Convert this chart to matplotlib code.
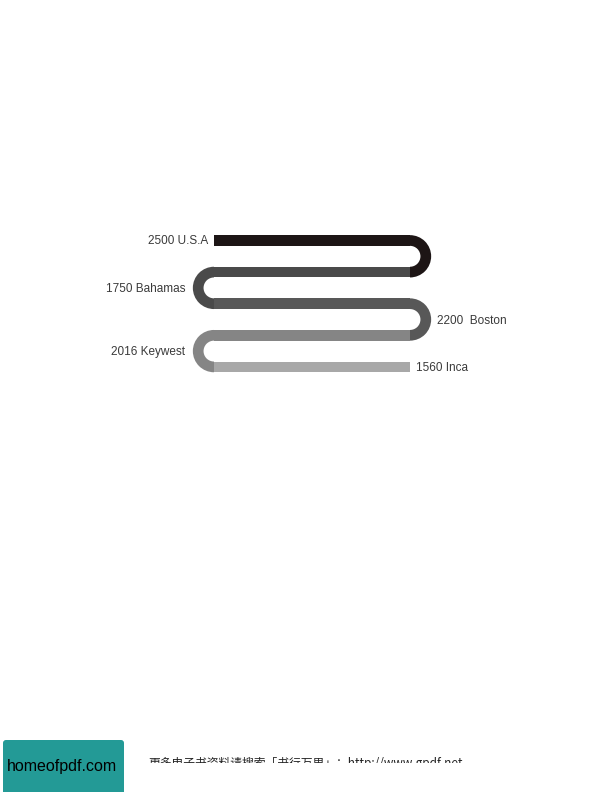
import matplotlib
matplotlib.use("Agg")
import matplotlib.pyplot as plt
from matplotlib.patches import Rectangle, Wedge, FancyBboxPatch

# ---- data ----
places = ["U.S.A", "Bahamas", "Boston", "Keywest", "Inca"]
values = [2500, 1750, 2200, 2016, 1560]
colors = ["#1d1515", "#4a4a4a", "#585858", "#858585", "#a8a8a8"]
label_text = ["2500 U.S.A", "1750 Bahamas", "2200  Boston", "2016 Keywest", "1560 Inca"]

footer_logo = "homeofpdf.com"
footer_text = "更多电子书资料请搜索「书行万里」：http://www.gpdf.net"

# ---- layout ----
W, H = 612, 792
fig = plt.figure(figsize=(W / 72, H / 72), dpi=72)
ax = fig.add_axes([0, 0, 1, 1])
ax.set_xlim(0, W)
ax.set_ylim(H, 0)
ax.axis("off")

x_left, x_right = 214, 410
y0, dy = 240.5, 31.6
thick = 10.7

n = len(places)
for i in range(n):
    yc = y0 + i * dy
    ax.add_patch(Rectangle((x_left, yc - thick / 2), x_right - x_left, thick,
                           facecolor=colors[i], edgecolor="none"))
    if i < n - 1:
        ym = yc + dy / 2
        r_out = dy / 2 + thick / 2
        if i % 2 == 0:
            w = Wedge((x_right, ym), r_out, -90, 90, width=thick,
                      facecolor=colors[i], edgecolor="none")
        else:
            w = Wedge((x_left, ym), r_out, 90, 270, width=thick,
                      facecolor=colors[i], edgecolor="none")
        ax.add_patch(w)

# labels
lab_font = dict(family=["Liberation Sans", "DejaVu Sans"], fontsize=11.7, color="#3a3a3a")
ax.text(208, y0 + 1, label_text[0], ha="right", va="center", **lab_font)
ax.text(185, y0 + dy / 2 + 33, label_text[1], ha="right", va="center", **lab_font)
ax.text(437, y0 + 2.5 * dy + 1, label_text[2], ha="left", va="center", **lab_font)
ax.text(185, y0 + 3.5 * dy + 0.5, label_text[3], ha="right", va="center", **lab_font)
ax.text(416, y0 + 4 * dy + 1.5, label_text[4], ha="left", va="center", **lab_font)

# footer
ax.add_patch(FancyBboxPatch((3, 740), 121, 60, boxstyle="round,pad=0,rounding_size=3",
                            facecolor="#239a96", edgecolor="none"))
ax.text(62, 767, footer_logo, ha="center", va="center", fontsize=16,
        family=["Liberation Sans", "DejaVu Sans"], color="#000000")
ax.text(148, 757, footer_text, ha="left", va="top", fontsize=11.8,
        family=["Noto Sans CJK SC", "DejaVu Sans"], color="#222222")
ax.add_patch(Rectangle((135, 763), W - 135, H - 763, facecolor="white",
                       edgecolor="none", zorder=5))

fig.savefig("out.png", dpi=72, facecolor="white")
